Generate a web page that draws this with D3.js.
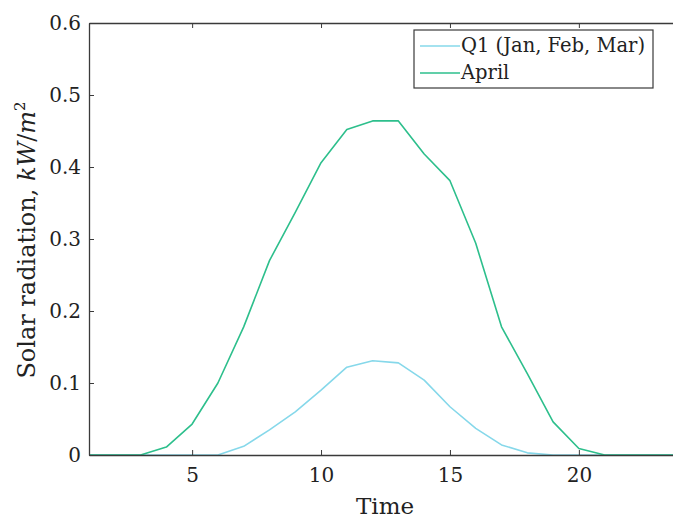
<!doctype html>
<html>
  <head>
    <meta charset="utf-8">
    <script src="https://d3js.org/d3.v7.min.js"></script>
    <style>
      body { margin: 0; background: #fff; }
      svg text { font-family: "DejaVu Serif", serif; fill: #222; }
    </style>
  </head>
  <body>
    <script>
    // hours of the day
    var hours = d3.range(1, 25);

    // solar radiation, kW/m^2
    var q1 = [0, 0, 0, 0, 0, 0, 0.012, 0.035, 0.06, 0.09, 0.122, 0.131,
              0.128, 0.104, 0.067, 0.037, 0.014, 0.003, 0, 0, 0, 0, 0, 0];
    var april = [0, 0, 0, 0.011, 0.043, 0.1, 0.178, 0.27, 0.337, 0.406, 0.452, 0.464,
                 0.464, 0.418, 0.381, 0.294, 0.178, 0.113, 0.046, 0.009, 0, 0, 0, 0];

    var seriesNames = ['Q1 (Jan, Feb, Mar)', 'April'];
    var colors = ['#86d8ea', '#2dbf8c'];
    var xTicks = [5, 10, 15, 20];
    var yTicks = [0, 0.1, 0.2, 0.3, 0.4, 0.5, 0.6];

    var width = 673, height = 522;
    var margin = { top: 23, right: -9, bottom: 67, left: 89 };
    var innerWidth = width - margin.left - margin.right;
    var innerHeight = height - margin.top - margin.bottom;

    var svg = d3.select('body')
      .append('svg')
      .attr('width', width)
      .attr('height', height);

    var g = svg.append('g')
      .attr('transform', 'translate(' + margin.left + ',' + margin.top + ')');

    var x = d3.scaleLinear().domain([1, 24]).range([0, innerWidth]);
    var y = d3.scaleLinear().domain([0, 0.6]).range([innerHeight, 0]);

    // data lines
    var data = [q1, april];
    var line = d3.line()
      .x(function(d, i) { return x(hours[i]); })
      .y(function(d) { return y(d); });

    g.selectAll('.series')
      .data(data)
      .enter()
      .append('path')
      .attr('class', 'series')
      .attr('fill', 'none')
      .attr('stroke', function(d, i) { return colors[i]; })
      .attr('stroke-width', 1.6)
      .attr('stroke-linejoin', 'round')
      .attr('d', line);

    // axes (ticks inward, box)
    var axisColor = '#3a3a3a';

    var xAxis = g.append('g')
      .attr('transform', 'translate(0,' + innerHeight + ')')
      .call(d3.axisBottom(x).tickValues(xTicks).tickSizeInner(-5).tickSizeOuter(0).tickPadding(13));

    var xTop = g.append('g')
      .call(d3.axisTop(x).tickValues(xTicks).tickSizeInner(-5).tickSizeOuter(0));
    xTop.selectAll('text').remove();

    var yAxis = g.append('g')
      .call(d3.axisLeft(y).tickValues(yTicks).tickSizeInner(-5).tickSizeOuter(0).tickPadding(8)
        .tickFormat(function(d) { return d === 0 ? '0' : d3.format('.1f')(d); }));

    [xAxis, xTop, yAxis].forEach(function(a) {
      a.attr('font-family', null);
      a.selectAll('path').attr('stroke', axisColor).attr('stroke-width', 1.3);
      a.selectAll('line').attr('stroke', axisColor).attr('stroke-width', 1);
      a.selectAll('text')
        .style('font-size', '20px')
        .attr('fill', '#222');
    });

    // axis labels
    svg.append('text')
      .attr('x', 385)
      .attr('y', 514)
      .attr('text-anchor', 'middle')
      .style('font-size', '23px')
      .text('Time');

    var ylab = svg.append('text')
      .attr('text-anchor', 'middle')
      .attr('transform', 'translate(35,240) rotate(-90)')
      .style('font-size', '24px');
    ylab.append('tspan').text('Solar radiation, ');
    ylab.append('tspan').attr('font-style', 'italic').text('kW');
    ylab.append('tspan').text('/');
    ylab.append('tspan').attr('font-style', 'italic').text('m');
    ylab.append('tspan').attr('dy', -10).style('font-size', '15px').text('2');

    // legend
    var legend = svg.append('g').attr('transform', 'translate(414,30)');
    legend.append('rect')
      .attr('width', 239)
      .attr('height', 58)
      .attr('fill', '#fff')
      .attr('stroke', axisColor)
      .attr('stroke-width', 1.2);

    seriesNames.forEach(function(name, i) {
      legend.append('line')
        .attr('x1', 6).attr('x2', 46)
        .attr('y1', 16 + i * 27).attr('y2', 16 + i * 27)
        .attr('stroke', colors[i])
        .attr('stroke-width', 1.6);
      legend.append('text')
        .attr('x', 47)
        .attr('y', 22 + i * 27)
        .style('font-size', '19.5px')
        .text(name);
    });
    </script>
  </body>
</html>
